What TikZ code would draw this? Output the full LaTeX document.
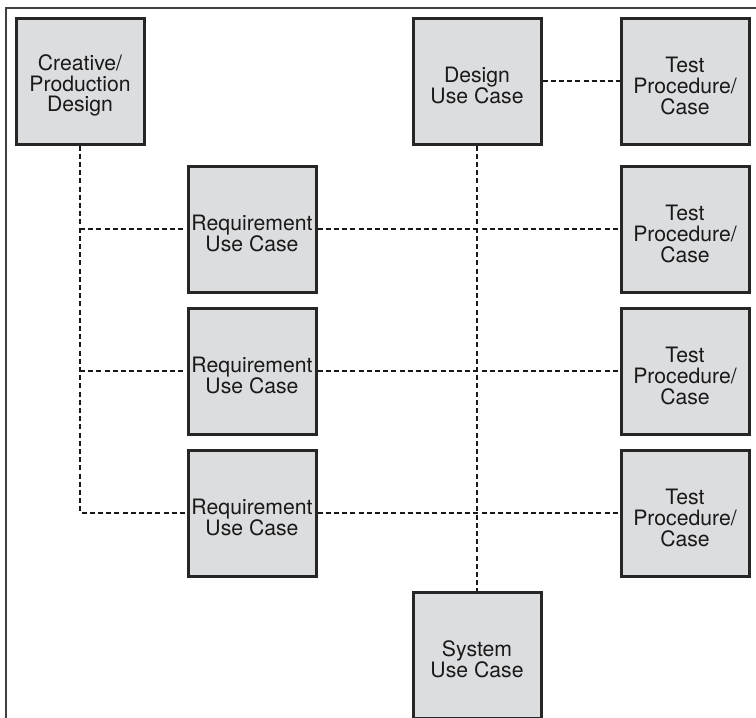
\documentclass[tikz,border=0pt]{standalone}
\usepackage{fontspec}
\setmainfont{TeX Gyre Heros}
\newcommand{\boxtop}{\rule{0pt}{12.5pt}}
\begin{document}
\begin{tikzpicture}[x=0.5pt,y=-0.5pt,
  box/.style={draw=black!85, line width=1.5pt, fill=boxgray, minimum width=64pt, minimum height=63pt, inner sep=0pt, align=center, font=\fontsize{10.6}{10.4}\selectfont, text=black!90},
  link/.style={draw=black!90, line width=1pt, dash pattern=on 2.5pt off 1.6pt}]
\definecolor{boxgray}{HTML}{DCDDDF}
\useasboundingbox (0,0) rectangle (756,718);
\draw[black!75, line width=1pt] (756,8) -- (6,8) -- (6,718);
\node[box] (cpd) at (80,81) {\boxtop Creative/\\Production\\Design};
\node[box] (duc) at (477,81) {\boxtop Design\\Use Case};
\node[box] (t1) at (685,81) {\boxtop Test\\Procedure/\\Case};
\node[box] (r1) at (252,229) {\boxtop Requirement\\Use Case};
\node[box] (t2) at (685,229) {\boxtop Test\\Procedure/\\Case};
\node[box] (r2) at (252,371) {\boxtop Requirement\\Use Case};
\node[box] (t3) at (685,371) {\boxtop Test\\Procedure/\\Case};
\node[box] (r3) at (252,513) {\boxtop Requirement\\Use Case};
\node[box] (t4) at (685,513) {\boxtop Test\\Procedure/\\Case};
\node[box] (suc) at (477,655) {\boxtop System\\Use Case};
\coordinate (c1) at (80,229);
\coordinate (c2) at (80,371);
\coordinate (c3) at (80,513);
\draw[link] (cpd.south) -- (c3) -- (r3.west);
\draw[link] (c1) -- (r1.west);
\draw[link] (c2) -- (r2.west);
\draw[link] (r1.east) -- (t2.west);
\draw[link] (r2.east) -- (t3.west);
\draw[link] (r3.east) -- (t4.west);
\draw[link] (duc.east) -- (t1.west);
\draw[link] (duc.south) -- (suc.north);
\end{tikzpicture}
\end{document}
